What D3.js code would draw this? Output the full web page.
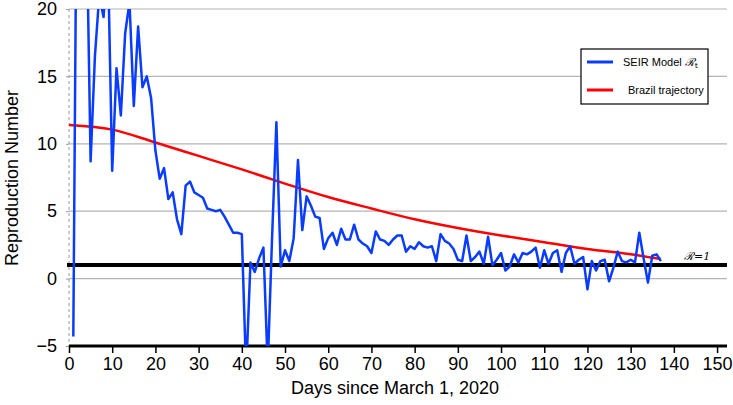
<!DOCTYPE html>
<html>
<head>
<meta charset="utf-8">
<script src="https://cdn.jsdelivr.net/npm/d3@7"></script>
<style>
  body { margin: 0; background: #fff; }
  text { font-family: "Liberation Sans Narrow", "Liberation Sans", Arial, sans-serif; }
</style>
</head>
<body>
<div id="chart"></div>
<script>
// SEIR model R_t, one value per day starting at day 1 (values beyond the axis get clipped)
var seirDays = d3.range(1, 138)
var seirValues = [
  -4.3, 40, 45, 28, 8.7, 16.5, 21, 19.4, 24, 8.0,
  15.6, 12.1, 18.2, 20.5, 12.8, 18.7, 14.2, 15.0, 13.4, 9.5,
  7.4, 8.2, 5.9, 6.4, 4.4, 3.3, 6.9, 7.2, 6.4, 6.2,
  6.0, 5.2, 5.1, 5.0, 5.1, 4.6, 4.0, 3.4, 3.4, 3.3,
  -7, 1.2, 0.5, 1.5, 2.3, -6.5, 3, 11.6, 0.9, 2.1,
  1.3, 3.0, 8.8, 3.6, 6.1, 5.4, 4.6, 4.5, 2.2, 3.0,
  3.4, 2.5, 3.7, 2.9, 2.9, 4.0, 2.9, 2.6, 2.4, 1.9,
  3.5, 2.9, 2.8, 2.5, 2.9, 3.2, 3.2, 2.0, 2.4, 2.2,
  2.7, 2.4, 2.3, 2.4, 1.3, 3.3, 2.8, 2.6, 2.2, 1.4,
  1.3, 3.2, 1.3, 1.6, 2.0, 1.1, 3.1, 1.0, 1.4, 1.9,
  0.6, 0.9, 1.8, 1.2, 1.9, 1.8, 2.0, 2.3, 0.8, 2.1,
  1.1, 1.9, 2.1, 0.5, 1.9, 2.4, 1.1, 1.4, 1.6, -0.8,
  1.3, 0.6, 1.3, 1.4, -0.2, 0.8, 2.0, 1.3, 1.2, 1.4,
  1.2, 3.4, 1.5, -0.3, 1.7, 1.8, 1.3
]

// Brazil trajectory, read every 10 days
var brazilDays = [0, 10, 20, 30, 40, 50, 60, 70, 80, 90, 100, 110, 120, 130, 137]
var brazilValues = [11.4, 11.05, 10.1, 9.1, 8.1, 7.05, 6.05, 5.2, 4.4, 3.75, 3.2, 2.7, 2.2, 1.8, 1.45]

var xTicks = d3.range(0, 151, 10)
var yTicks = [-5, 0, 5, 10, 15, 20]
var gridValues = [0, 5, 10, 15, 20]
var threshold = 1

var width = 733, height = 405

var x = d3.scaleLinear().domain([0, 152.3]).range([69, 727])
var y = d3.scaleLinear().domain([-5, 20]).range([346, 9])

var svg = d3.select("#chart").append("svg")
    .attr("width", width).attr("height", height)

svg.append("defs").append("clipPath").attr("id", "plot")
  .append("rect")
    .attr("x", x(0)).attr("y", y(20))
    .attr("width", x(152.3) - x(0)).attr("height", y(-5) - y(20))

// grid
svg.append("g")
  .selectAll("line")
  .data(gridValues)
  .enter().append("line")
    .attr("x1", x(0)).attr("x2", x(152.3))
    .attr("y1", d => y(d)).attr("y2", d => y(d))
    .attr("stroke", "#b4b4b4").attr("stroke-width", 1.2)

// left dashed axis
svg.append("line")
    .attr("x1", x(0)).attr("x2", x(0))
    .attr("y1", y(20)).attr("y2", y(-5))
    .attr("stroke", "#9a9a9a").attr("stroke-dasharray", "3,3")

var yAxis = svg.append("g")
    .attr("transform", `translate(${x(0)},0)`)
    .call(d3.axisLeft(y).tickValues(yTicks).tickSize(3).tickPadding(9))
yAxis.select(".domain").remove()
yAxis.selectAll(".tick line").attr("stroke", "#999")
yAxis.selectAll("text").attr("font-size", 18).attr("fill", "#000")

var xAxis = svg.append("g")
    .attr("transform", `translate(0,${y(-5)})`)
    .call(d3.axisBottom(x).tickValues(xTicks).tickSize(7).tickPadding(4))
xAxis.select(".domain").attr("stroke-width", 3).attr("d", `M${x(0)},0H${x(152.3)}`)
xAxis.selectAll(".tick line").attr("stroke-width", 1.5)
xAxis.selectAll("text").attr("font-size", 18).attr("fill", "#000")

// R = 1
svg.append("line")
    .attr("x1", x(0) - 2).attr("x2", x(152.3))
    .attr("y1", y(threshold)).attr("y2", y(threshold))
    .attr("stroke", "#000").attr("stroke-width", 4)

svg.append("text")
    .attr("x", 684).attr("y", y(threshold) - 5)
    .style("font-family", "'DejaVu Serif', 'Liberation Serif', serif")
    .style("font-style", "italic")
    .attr("font-size", 11)
    .text("ℛ=1")

var lines = svg.append("g").attr("clip-path", "url(#plot)")

lines.append("path")
    .datum(brazilDays.map((d, i) => [d, brazilValues[i]]))
    .attr("fill", "none").attr("stroke", "#ff0000").attr("stroke-width", 2.5)
    .attr("d", d3.line().x(d => x(d[0])).y(d => y(d[1])).curve(d3.curveMonotoneX))

lines.append("path")
    .datum(seirDays.map((d, i) => [d, seirValues[i]]))
    .attr("fill", "none").attr("stroke", "#0a3cff").attr("stroke-width", 2.5)
    .attr("stroke-linejoin", "round")
    .attr("d", d3.line().x(d => x(d[0])).y(d => y(d[1])))

// titles
svg.append("text")
    .attr("x", 395).attr("y", 394)
    .attr("text-anchor", "middle").attr("font-size", 18)
    .text("Days since March 1, 2020")

svg.append("text")
    .attr("transform", "translate(18,178) rotate(-90)")
    .attr("text-anchor", "middle").attr("font-size", 18)
    .text("Reproduction Number")

// legend
var legend = svg.append("g")
legend.append("rect")
    .attr("x", 581).attr("y", 49).attr("width", 127).attr("height", 55)
    .attr("fill", "#fff").attr("stroke", "#000").attr("stroke-width", 1.2)
legend.append("line")
    .attr("x1", 587).attr("x2", 613).attr("y1", 62).attr("y2", 62)
    .attr("stroke", "#0a3cff").attr("stroke-width", 3)
legend.append("line")
    .attr("x1", 587).attr("x2", 613).attr("y1", 90).attr("y2", 90)
    .attr("stroke", "#ff0000").attr("stroke-width", 3)
var t1 = legend.append("text")
    .attr("x", 623).attr("y", 66).attr("font-size", 11)
    .style("font-family", "'Liberation Sans', Arial, sans-serif")
t1.append("tspan").text("SEIR Model ")
t1.append("tspan").style("font-family", "'DejaVu Serif', serif").style("font-style", "italic").text("ℛ")
t1.append("tspan").attr("font-size", 8).attr("dy", 2).style("font-family", "'DejaVu Serif', serif").text("t")
legend.append("text")
    .attr("x", 628).attr("y", 94).attr("font-size", 11)
    .style("font-family", "'Liberation Sans', Arial, sans-serif")
    .text("Brazil trajectory")
</script>
</body>
</html>
